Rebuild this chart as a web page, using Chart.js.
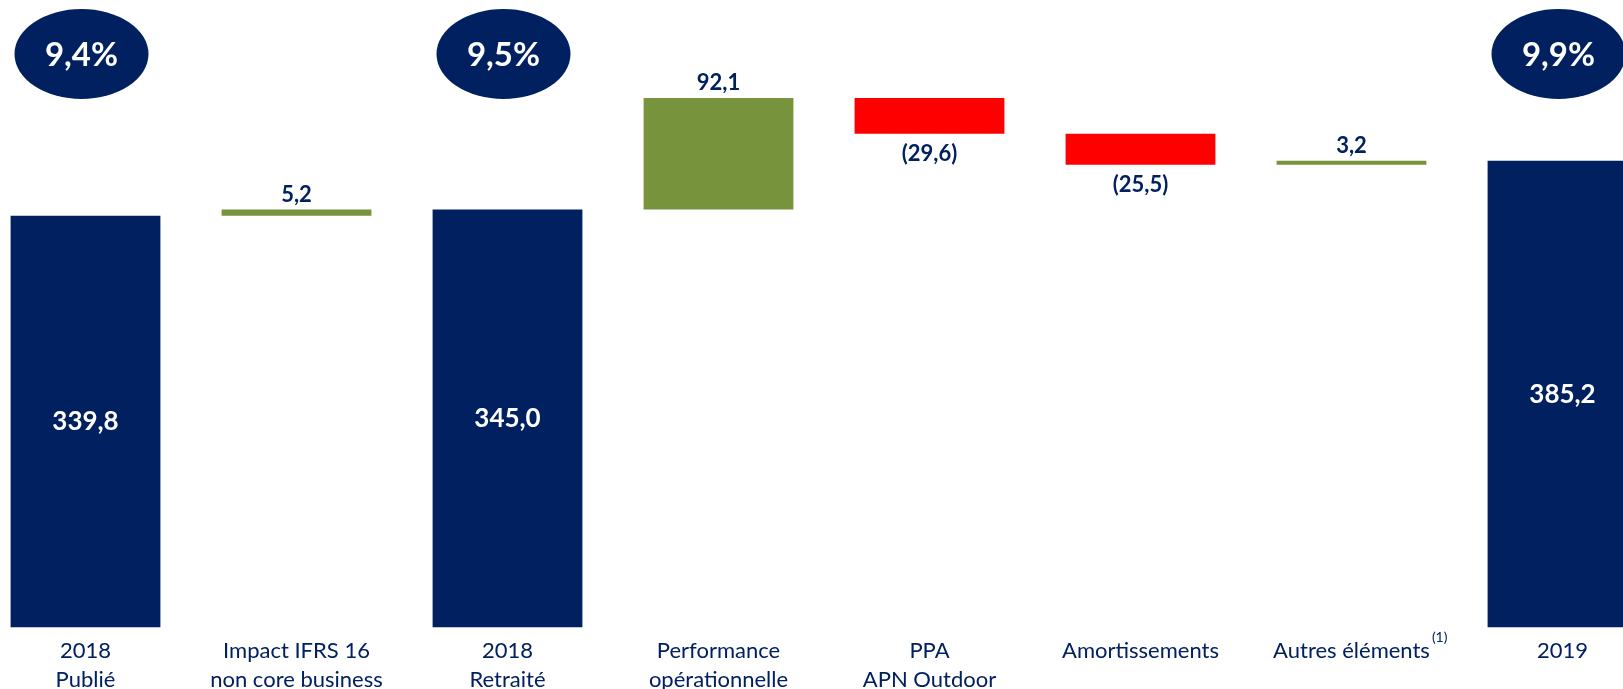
<!DOCTYPE html>
<html>
<head>
<meta charset="utf-8">
<script src="https://cdn.jsdelivr.net/npm/chart.js@4"></script>
<style>
  html, body { margin: 0; padding: 0; background: #fff; overflow: hidden; }
  body { width: 1623px; height: 689px; position: relative; }
  /* the plot runs a little past the edges of the page */
  #wrap { position: absolute; left: -20px; top: 0; width: 1688px; height: 704px; }
</style>
</head>
<body>
<div id="wrap"><canvas id="bridgeChart"></canvas></div>
<script>
const categories = [
  ['2018', 'Publié'],
  ['Impact IFRS 16', 'non core business'],
  ['2018', 'Retraité'],
  ['Performance', 'opérationnelle'],
  ['PPA', 'APN Outdoor'],
  'Amortissements',
  'Autres éléments',
  '2019'
];
const amounts = [339.8, 5.2, 345.0, 92.1, -29.6, -25.5, 3.2, 385.2];
const isTotal = [true, false, true, false, false, false, false, true];
const margins = ['9,4%', null, '9,5%', null, null, null, null, '9,9%'];
const footnotes = [null, null, null, null, null, null, '(1)', null];

const NAVY = '#002060';
const GREEN = '#77933C';
const RED = '#FF0000';
const FONT = 'Lato, "Open Sans", sans-serif';

// running totals -> floating bars
let running = 0;
const floating = amounts.map((v, i) => {
  if (isTotal[i]) { running = v; return [0, v]; }
  const start = running;
  running += v;
  return [start, running];
});
const colors = amounts.map((v, i) => isTotal[i] ? NAVY : (v >= 0 ? GREEN : RED));

function fmt(v) {
  const s = Math.abs(v).toFixed(1).replace('.', ',');
  return v < 0 ? '(' + s + ')' : s;
}

const labelsPlugin = {
  id: 'bridgeLabels',
  afterDatasetsDraw(chart) {
    const ctx = chart.ctx;
    const bars = chart.getDatasetMeta(0).data;
    ctx.save();
    ctx.textAlign = 'center';
    ctx.textBaseline = 'middle';
    bars.forEach((bar, i) => {
      const top = Math.min(bar.y, bar.base);
      const bottom = Math.max(bar.y, bar.base);
      if (isTotal[i]) {
        ctx.fillStyle = '#fff';
        ctx.font = 'bold 26px ' + FONT;
        ctx.fillText(fmt(amounts[i]), bar.x, (top + bottom) / 2);
      } else if (amounts[i] >= 0) {
        ctx.fillStyle = NAVY;
        ctx.font = 'bold 22px ' + FONT;
        ctx.fillText(fmt(amounts[i]), bar.x, top - 15);
      } else {
        ctx.fillStyle = NAVY;
        ctx.font = 'bold 22px ' + FONT;
        ctx.fillText(fmt(amounts[i]), bar.x, bottom + 20);
      }
      // margin bubbles above the totals
      if (margins[i]) {
        ctx.fillStyle = NAVY;
        ctx.beginPath();
        ctx.ellipse(bar.x - 4, 54, 67, 45, 0, 0, Math.PI * 2);
        ctx.fill();
        ctx.fillStyle = '#fff';
        ctx.font = 'bold 33px ' + FONT;
        ctx.fillText(margins[i], bar.x - 4, 55);
      }
    });
    ctx.restore();
  },
  afterDraw(chart) {
    const ctx = chart.ctx;
    const xs = chart.scales.x;
    ctx.save();
    footnotes.forEach((note, i) => {
      if (!note) return;
      ctx.font = '22px ' + FONT;
      const w = ctx.measureText(categories[i]).width;
      const x = xs.getPixelForTick(i) + w / 2 + 2;
      ctx.font = '14px ' + FONT;
      ctx.fillStyle = NAVY;
      ctx.textAlign = 'left';
      ctx.textBaseline = 'middle';
      ctx.fillText(note, x, chart.chartArea.bottom + 10);
    });
    ctx.restore();
  }
};

new Chart(document.getElementById('bridgeChart'), {
  type: 'bar',
  data: {
    labels: categories,
    datasets: [{
      data: floating,
      backgroundColor: colors,
      borderWidth: 0,
      barPercentage: 0.71,
      categoryPercentage: 1
    }]
  },
  options: {
    responsive: true,
    maintainAspectRatio: false,
    animation: false,
    layout: { padding: 0 },
    plugins: {
      legend: { display: false },
      tooltip: { enabled: false }
    },
    scales: {
      x: {
        grid: { display: false, drawTicks: false },
        border: { display: false },
        ticks: {
          color: NAVY,
          font: { family: FONT, size: 22, lineHeight: 1.33 },
          padding: 9,
          maxRotation: 0,
          autoSkip: false
        }
      },
      y: {
        display: false,
        min: 0,
        max: 518
      }
    }
  },
  plugins: [labelsPlugin]
});
</script>
</body>
</html>
